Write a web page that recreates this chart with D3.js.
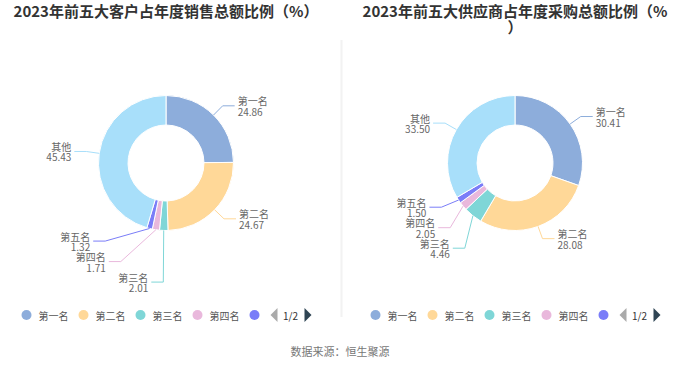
<!DOCTYPE html>
<html>
<head>
<meta charset="utf-8">
<script src="https://cdn.jsdelivr.net/npm/d3@7/dist/d3.min.js"></script>
<style>
  html, body { margin: 0; padding: 0; background: #fff; }
  svg { display: block; font-family: "Microsoft YaHei", "Noto Sans CJK SC", sans-serif; }
</style>
</head>
<body>
<svg id="chart" width="680" height="367"></svg>
<script>
// ---------- data ----------
const names = ["第一名", "第二名", "第三名", "第四名", "第五名", "其他"];
const customerValues = [24.86, 24.67, 2.01, 1.71, 1.32, 45.43];
const supplierValues = [30.41, 28.08, 4.46, 2.05, 1.50, 33.50];
const titles = ["2023年前五大客户占年度销售总额比例（%）", "2023年前五大供应商占年度采购总额比例（%）"];
const colors = ["#8daddb", "#ffd898", "#7fd6d7", "#e9b8dc", "#7a7df8", "#a8dffa"];
const legendPageText = "1/2";
const sourceText = "数据来源：恒生聚源";

// ---------- layout ----------
const W = 680, H = 367;
const svg = d3.select("#chart");
const panels = [
  { cx: 166, cy: 163, values: customerValues, title: titles[0] },
  { cx: 515, cy: 163, values: supplierValues, title: titles[1] }
];
const rOuter = 67.5, rInner = 38;
const len1 = 13, len2 = 12, textGap = 3, labelSpacing = 20.5;
const labelFont = 10, titleFont = 15, titleMaxW = 308;

// divider
svg.append("line").attr("x1", 341.5).attr("x2", 341.5).attr("y1", 40).attr("y2", 317)
  .attr("stroke", "#f2f2f2").attr("stroke-width", 2);

const pie = d3.pie().sort(null).value(d => d.value);
const arc = d3.arc().innerRadius(rInner).outerRadius(rOuter);
const colorScale = d3.scaleOrdinal().domain(names).range(colors);

function wrapTitle(g, text, cx) {
  const t = g.append("text").attr("text-anchor", "middle").attr("font-size", titleFont)
    .attr("font-weight", "bold").attr("fill", "#333");
  const chars = Array.from(text);
  let lines = [], cur = "";
  const probe = g.append("text").attr("font-size", titleFont).attr("font-weight", "bold");
  chars.forEach(ch => {
    probe.text(cur + ch);
    if (probe.node().getComputedTextLength() > titleMaxW && cur) { lines.push(cur); cur = ch; }
    else cur += ch;
  });
  lines.push(cur);
  probe.remove();
  lines.forEach((ln, i) => {
    t.append("tspan").attr("x", cx).attr("y", 17 + i * 16).text(ln);
  });
}

panels.forEach(p => {
  const g = svg.append("g");
  wrapTitle(g, p.title, p.cx);

  const data = names.map((n, i) => ({ name: n, value: p.values[i] }));
  const arcs = pie(data);
  const pg = g.append("g").attr("transform", `translate(${p.cx},${p.cy})`);
  pg.selectAll("path").data(arcs).join("path")
    .attr("d", arc)
    .attr("fill", d => colorScale(d.data.name))
    .attr("stroke", "#fff").attr("stroke-width", 1);

  // label layout (echarts-like)
  const items = arcs.map(a => {
    const m = (a.startAngle + a.endAngle) / 2;
    const s = Math.sin(m), c = -Math.cos(m);
    const dir = s >= 0 ? 1 : -1;
    const p0 = [p.cx + rOuter * s, p.cy + rOuter * c];
    const p1 = [p.cx + (rOuter + len1) * s, p.cy + (rOuter + len1) * c];
    return { a, dir, p0, x: p1[0] + dir * len2, y: p1[1], name: a.data.name, value: a.data.value };
  });
  [1, -1].forEach(dir => {
    const list = items.filter(d => d.dir === dir).sort((a, b) => a.y - b.y);
    let adjusted = false;
    for (let i = 1; i < list.length; i++) {
      const minY = list[i - 1].y + labelSpacing;
      if (list[i].y < minY) { list[i].y = minY; adjusted = true; }
    }
    if (adjusted) {
      const r = rOuter + len1;
      const semis = [{ list: [], maxY: 0, rB: r }, { list: [], maxY: 0, rB: r }];
      list.forEach(it => {
        const semi = it.y > p.cy ? semis[1] : semis[0];
        const dy = Math.abs(it.y - p.cy);
        if (dy >= semi.maxY) {
          const dx = it.x - p.cx - len2 * dir;
          semi.rB = Math.abs(dx) < r ? Math.sqrt(dy * dy / (1 - dx * dx / r / r)) : r;
          semi.maxY = dy;
        }
        semi.list.push(it);
      });
      semis.forEach(semi => {
        semi.list.forEach(it => {
          const dy = Math.abs(it.y - p.cy);
          const dx = Math.sqrt(Math.max(0, 1 - dy * dy / (semi.rB * semi.rB)) * r * r);
          it.x = p.cx + (dx + len2) * dir;
        });
      });
    }
  });

  const lg = g.append("g");
  items.forEach(it => {
    const pts = [it.p0, [it.x - it.dir * len2, it.y], [it.x, it.y]];
    lg.append("path").attr("d", d3.line()(pts)).attr("fill", "none")
      .attr("stroke", colorScale(it.name)).attr("stroke-width", 1);
    const t = lg.append("text")
      .attr("text-anchor", it.dir > 0 ? "start" : "end")
      .attr("font-size", labelFont).attr("fill", "#666");
    t.append("tspan").attr("x", it.x + it.dir * textGap).attr("y", it.y - 5)
      .attr("dominant-baseline", "central").text(it.name);
    t.append("tspan").attr("x", it.x + it.dir * textGap).attr("y", it.y + 5.5)
      .attr("dominant-baseline", "central").text(d3.format(".2f")(it.value));
  });

  // legend (scroll, page 1)
  const legY = 315, step = 57, legStart = p.cx - 139.5;
  const leg = g.append("g");
  names.slice(0, 5).forEach((n, i) => {
    const x = legStart + i * step;
    leg.append("circle").attr("cx", x).attr("cy", legY).attr("r", 5).attr("fill", colorScale(n));
    if (i < 4) {
      leg.append("text").attr("x", x + 12).attr("y", legY).attr("dominant-baseline", "central")
        .attr("font-size", 10).attr("fill", "#555").text(n);
    }
  });
  const ax = legStart + 4 * step + 16;
  leg.append("path").attr("d", `M${ax + 7},${legY - 7}L${ax},${legY}L${ax + 7},${legY + 7}Z`).attr("fill", "#aaa");
  leg.append("text").attr("x", ax + 20).attr("y", legY).attr("text-anchor", "middle")
    .attr("dominant-baseline", "central").attr("font-size", 10).attr("fill", "#333").text(legendPageText);
  leg.append("path").attr("d", `M${ax + 34},${legY - 7}L${ax + 41},${legY}L${ax + 34},${legY + 7}Z`).attr("fill", "#2f4554");
});

svg.append("text").attr("x", 340).attr("y", 351).attr("text-anchor", "middle")
  .attr("dominant-baseline", "central").attr("font-size", 11).attr("fill", "#777").text(sourceText);
</script>
</body>
</html>
